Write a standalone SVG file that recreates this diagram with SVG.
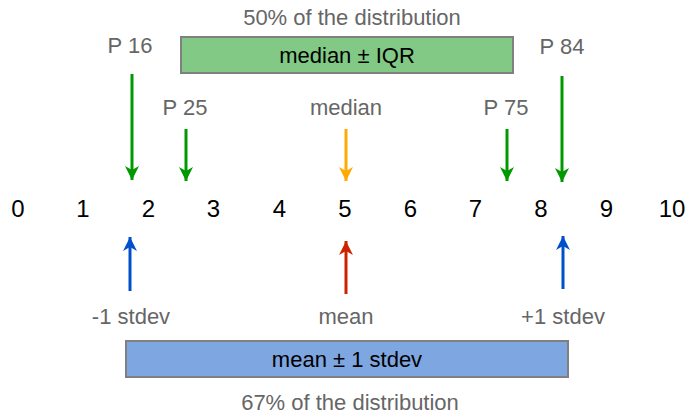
<svg xmlns="http://www.w3.org/2000/svg" width="698" height="416" viewBox="0 0 698 416">
<style>
text{font-family:"Liberation Sans",Arial,Helvetica,sans-serif;text-anchor:middle}
.g{fill:#666666;font-size:22px}
.k{fill:#000000;font-size:22px}
.n{fill:#000000;font-size:24px}
.box{stroke:#808080;stroke-width:2}
.a{stroke-width:3;fill:none}
</style>
<defs>
<marker id="hG" viewBox="0 0 14 14" markerWidth="14" markerHeight="14" refX="14" refY="7" orient="auto" markerUnits="userSpaceOnUse"><path d="M14,7 L0,0 L4,7 L0,14 Z" fill="#009900"/></marker>
<marker id="hO" viewBox="0 0 14 14" markerWidth="14" markerHeight="14" refX="14" refY="7" orient="auto" markerUnits="userSpaceOnUse"><path d="M14,7 L0,0 L4,7 L0,14 Z" fill="#FFAA00"/></marker>
<marker id="hR" viewBox="0 0 14 14" markerWidth="14" markerHeight="14" refX="14" refY="7" orient="auto" markerUnits="userSpaceOnUse"><path d="M14,7 L0,0 L4,7 L0,14 Z" fill="#CC2200"/></marker>
<marker id="hB" viewBox="0 0 14 14" markerWidth="14" markerHeight="14" refX="14" refY="7" orient="auto" markerUnits="userSpaceOnUse"><path d="M14,7 L0,0 L4,7 L0,14 Z" fill="#0050CC"/></marker>
</defs>
<rect width="698" height="416" fill="#ffffff"/>
<g id="iqr-box">
<rect class="box" x="181" y="37" width="332" height="36" fill="#82C986"/>
<text class="k" x="347" y="63">median ± IQR</text>
</g>
<g id="iqr-caption"><text class="g" x="352" y="25">50% of the distribution</text></g>
<g id="p16"><text class="g" x="130" y="53">P 16</text></g>
<g id="p84"><text class="g" x="562" y="54">P 84</text></g>
<g id="p25"><text class="g" x="185" y="115">P 25</text></g>
<g id="median"><text class="g" x="346" y="115">median</text></g>
<g id="p75"><text class="g" x="506" y="115">P 75</text></g>
<g id="axis">
<text class="n" x="18" y="217">0</text>
<text class="n" x="83" y="217">1</text>
<text class="n" x="148.5" y="217">2</text>
<text class="n" x="213.5" y="217">3</text>
<text class="n" x="279.5" y="217">4</text>
<text class="n" x="345" y="217">5</text>
<text class="n" x="410.5" y="217">6</text>
<text class="n" x="475.5" y="217">7</text>
<text class="n" x="541" y="217">8</text>
<text class="n" x="606.5" y="217">9</text>
<text class="n" x="672" y="217">10</text>
</g>
<g id="minus1"><text class="g" x="131" y="324">-1 stdev</text></g>
<g id="mean"><text class="g" x="346" y="324">mean</text></g>
<g id="plus1"><text class="g" x="563" y="324">+1 stdev</text></g>
<g id="sd-box">
<rect class="box" x="126" y="341" width="442" height="36" fill="#7EA6E0"/>
<text class="k" x="347" y="367">mean ± 1 stdev</text>
</g>
<g id="sd-caption"><text class="g" x="350" y="410">67% of the distribution</text></g>
<g id="connectors">
<line class="a" x1="132" y1="74" x2="132" y2="180" stroke="#009900" marker-end="url(#hG)"/>
<line class="a" x1="186" y1="129" x2="186" y2="181" stroke="#009900" marker-end="url(#hG)"/>
<line class="a" x1="346" y1="129" x2="346" y2="181" stroke="#FFAA00" marker-end="url(#hO)"/>
<line class="a" x1="507" y1="129" x2="507" y2="181" stroke="#009900" marker-end="url(#hG)"/>
<line class="a" x1="562" y1="76" x2="562" y2="182" stroke="#009900" marker-end="url(#hG)"/>
<line class="a" x1="130" y1="291" x2="130" y2="237" stroke="#0050CC" marker-end="url(#hB)"/>
<line class="a" x1="346" y1="294" x2="346" y2="241" stroke="#CC2200" marker-end="url(#hR)"/>
<line class="a" x1="563" y1="289" x2="563" y2="236" stroke="#0050CC" marker-end="url(#hB)"/>
</g>
</svg>
